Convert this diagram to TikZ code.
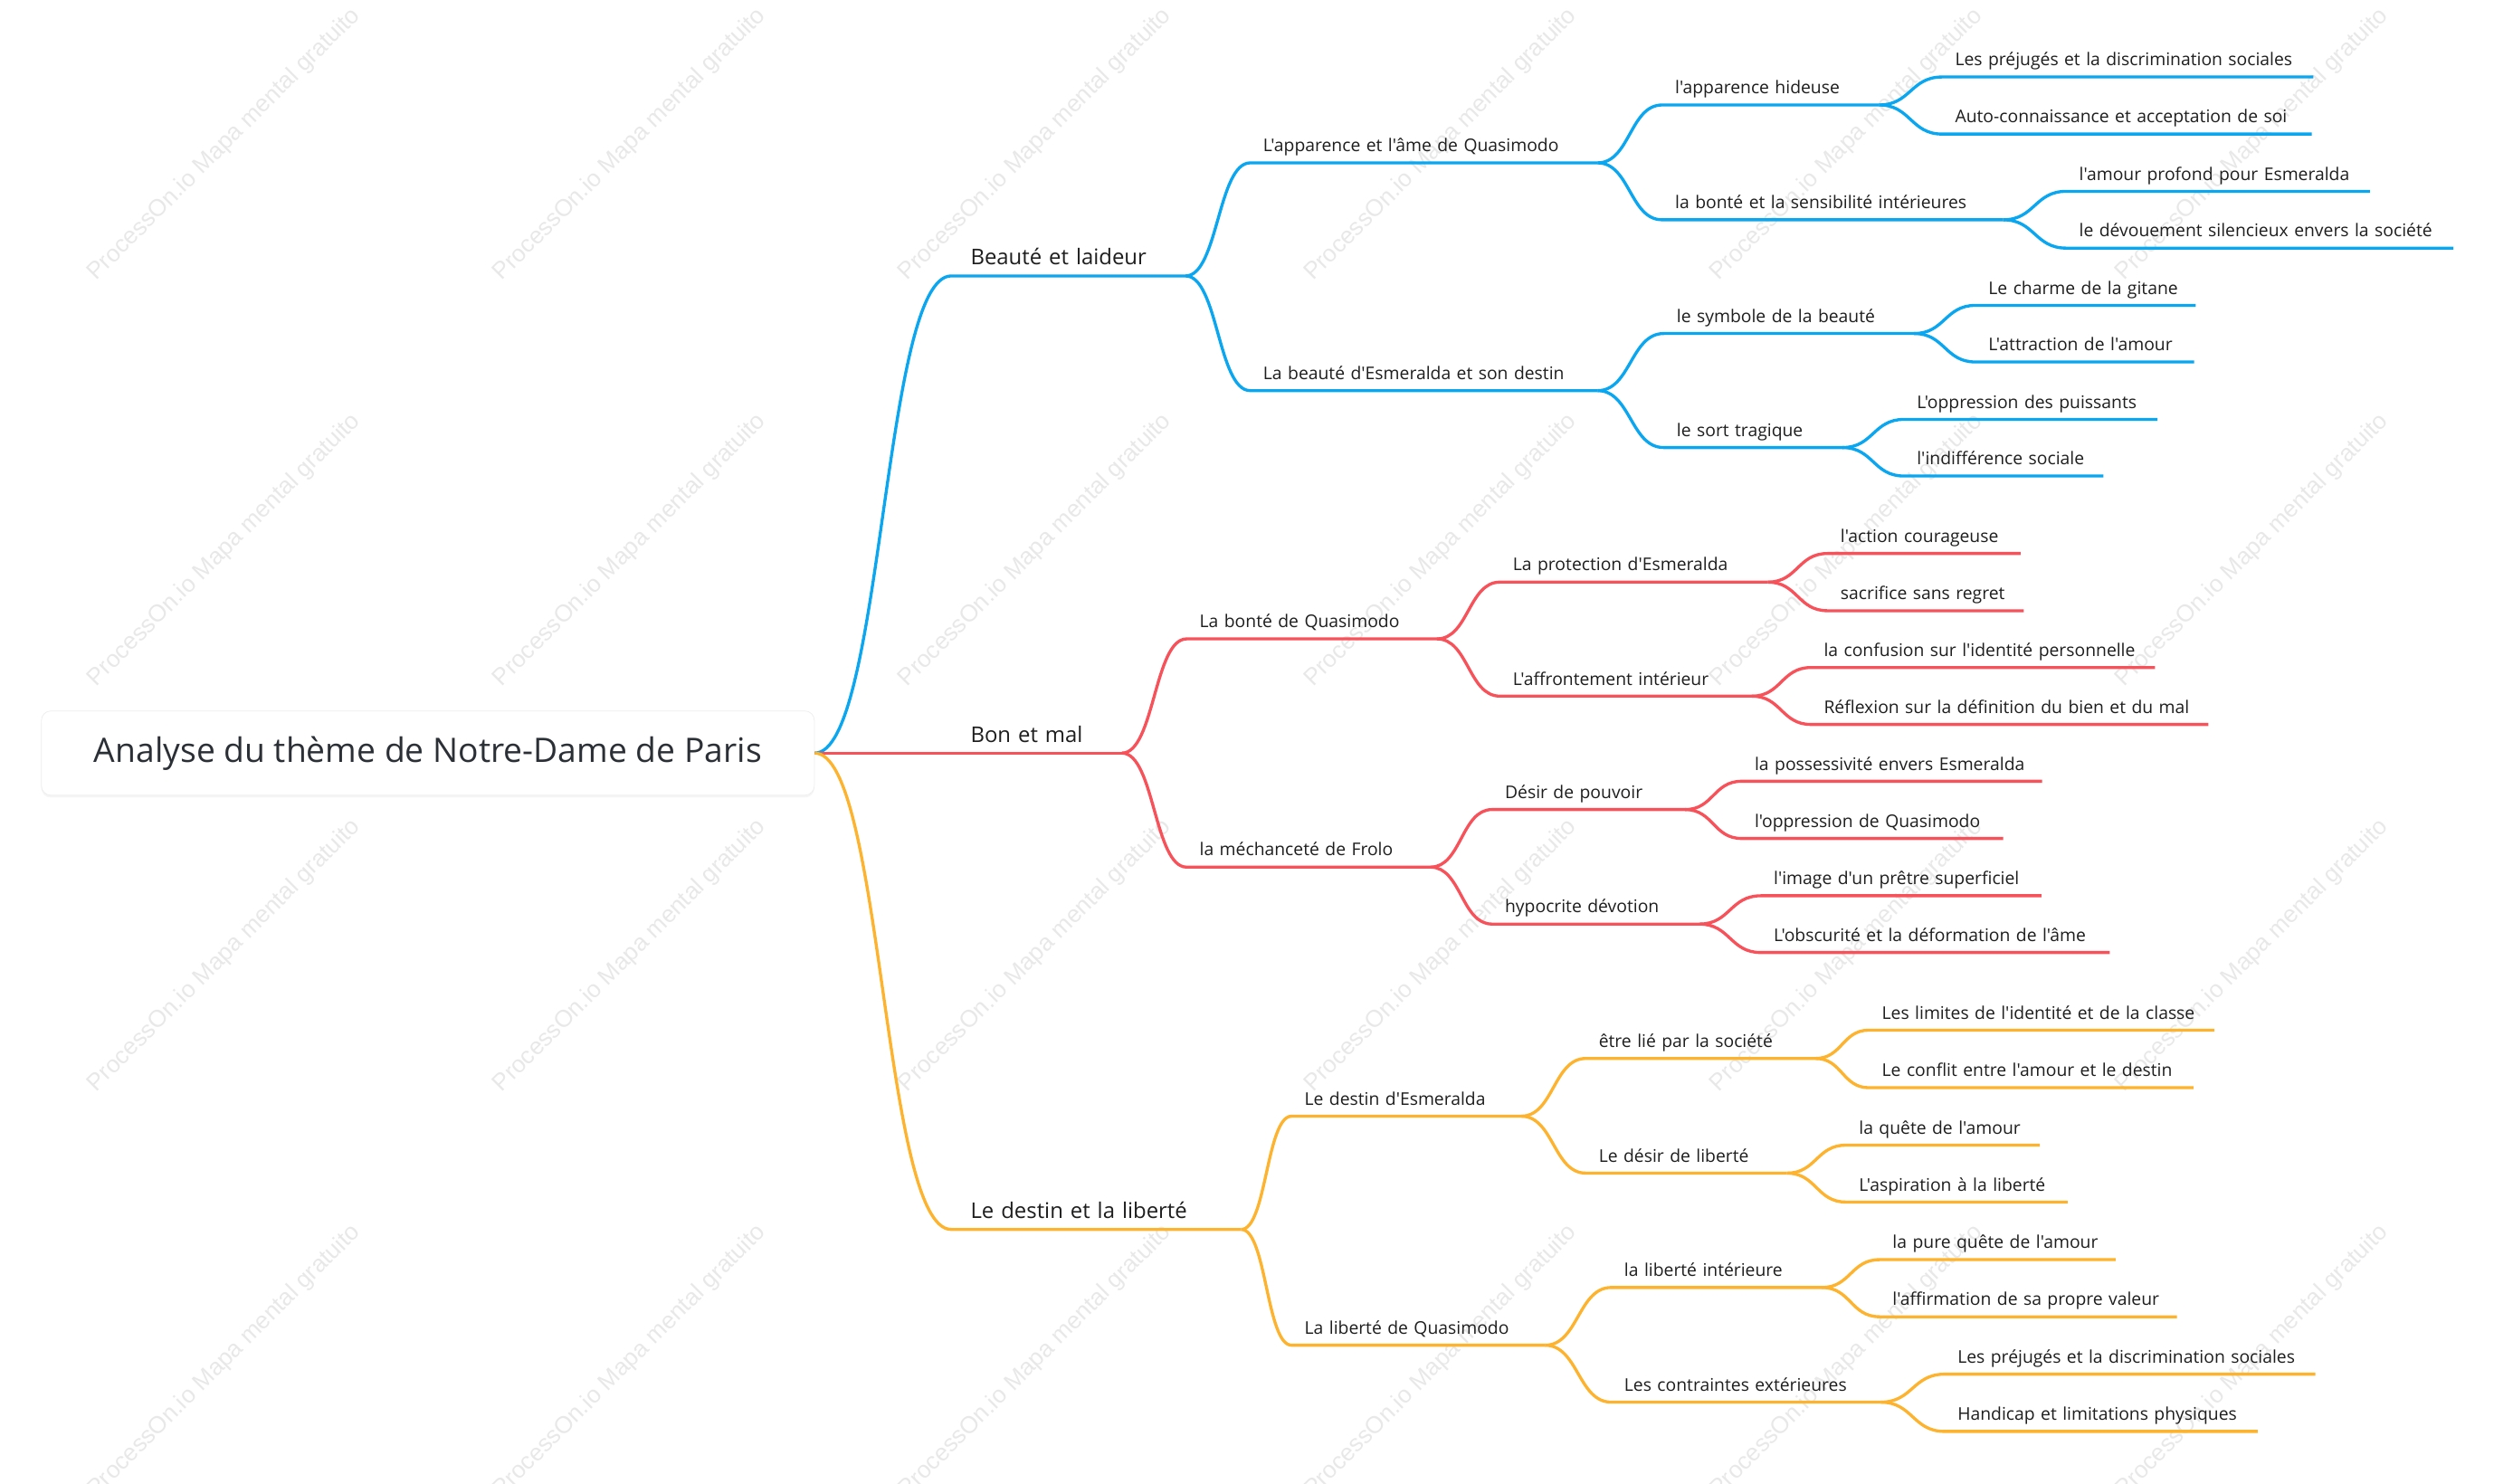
\documentclass[tikz,border=0pt]{standalone}
\usepackage{fontspec}
\setmainfont{Open Sans}[Ligatures={TeXOff,CommonOff}]
\newfontfamily\wmfont{Liberation Sans}
\usetikzlibrary{calc,shadows}

\definecolor{mblue}{HTML}{0AA6F0}
\definecolor{mred}{HTML}{F7525A}
\definecolor{morange}{HTML}{FDB32D}
\definecolor{mtext}{HTML}{1E1E1E}
\definecolor{roottext}{HTML}{2B2F36}

\begin{document}
\begin{tikzpicture}[x=1pt, y=-1pt,
  topic/.style={anchor=south west, inner xsep=12pt, inner ysep=0pt, text depth=6.6pt, align=left, text=mtext, font=\fontsize{13.6}{16}\selectfont},
  sub/.style={anchor=south west, inner xsep=8pt, inner ysep=0pt, text depth=6.8pt, align=left, text=mtext, font=\fontsize{11}{13}\selectfont},
  curvy/.style={to path={.. controls ($(\tikztostart)!.5!(\tikztotarget|-\tikztostart)$) and ($(\tikztotarget)!.5!(\tikztostart|-\tikztotarget)$) .. (\tikztotarget) \tikztonodes}},
  bl/.style={draw=mblue, line width=1.9pt},
  rd/.style={draw=mred, line width=1.9pt},
  og/.style={draw=morange, line width=1.9pt},
  wmark/.style={rotate=45, text=black!9, font=\wmfont\fontsize{15}{18}\selectfont}]

\useasboundingbox (0,0) rectangle (1568,933);

\foreach \i in {0,...,5}
  \foreach \j in {0,...,3}
    \node[wmark] (wm-\i-\j) at (141+255*\i, 91+255*\j) {ProcessOn.io Mapa mental gratuito};

\node[draw=black!7, fill=white, rounded corners=6pt, minimum width=486pt, minimum height=53pt, drop shadow={opacity=0.08, shadow xshift=0pt, shadow yshift=-1.5pt}, text=roottext, font=\fontsize{21.2}{25}\selectfont] (root) at (269,473.5) {Analyse du thème de Notre-Dame de Paris};

\node[topic, text width=123pt] (b) at (598,173.5) {Beauté et laideur};
\node[topic, text width=83pt] (r) at (598,473.5) {Bon et mal};
\node[topic, text width=158pt] (o) at (598,773) {Le destin et la liberté};

\node[sub, text width=202pt] (b1) at (786,102.4) {L'apparence et l'âme de Quasimodo};
\node[sub, text width=202pt] (b2) at (786,245.6) {La beauté d'Esmeralda et son destin};
\node[sub, text width=141pt] (r1) at (746,401.7) {La bonté de Quasimodo};
\node[sub, text width=137pt] (r2) at (746,545.2) {la méchanceté de Frolo};
\node[sub, text width=128pt] (o1) at (812,701.8) {Le destin d'Esmeralda};
\node[sub, text width=143pt] (o2) at (812,845.8) {La liberté de Quasimodo};

\node[sub, text width=120pt] (b11) at (1045,66) {l'apparence hideuse};
\node[sub, text width=198pt] (b12) at (1045,138.2) {la bonté et la sensibilité intérieures};
\node[sub, text width=141pt] (b21) at (1046,209.7) {le symbole de la beauté};
\node[sub, text width=96pt] (b22) at (1046,281.4) {le sort tragique};
\node[sub, text width=152pt] (r11) at (943,366) {La protection d'Esmeralda};
\node[sub, text width=142pt] (r12) at (943,437.7) {L'affrontement intérieur};
\node[sub, text width=105pt] (r21) at (938,509) {Désir de pouvoir};
\node[sub, text width=114pt] (r22) at (938,581) {hypocrite dévotion};
\node[sub, text width=128pt] (o11) at (997,665.5) {être lié par la société};
\node[sub, text width=110pt] (o12) at (997,737.6) {Le désir de liberté};
\node[sub, text width=116pt] (o21) at (1013,809.5) {la liberté intérieure};
\node[sub, text width=153pt] (o22) at (1013,881.6) {Les contraintes extérieures};

\node[sub, text width=217pt] (b111) at (1221,48.4) {Les préjugés et la discrimination sociales};
\node[sub, text width=216pt] (b112) at (1221,84.3) {Auto-connaissance et acceptation de soi};
\node[sub, text width=174.5pt] (b121) at (1299,120.3) {l'amour profond pour Esmeralda};
\node[sub, text width=227pt] (b122) at (1299,156) {le dévouement silencieux envers la société};
\node[sub, text width=122pt] (b211) at (1242,192) {Le charme de la gitane};
\node[sub, text width=121pt] (b212) at (1242,227.6) {L'attraction de l'amour};
\node[sub, text width=143pt] (b221) at (1197,263.7) {L'oppression des puissants};
\node[sub, text width=109pt] (b222) at (1197,299.3) {l'indifférence sociale};

\node[sub, text width=105pt] (r111) at (1149,348) {l'action courageuse};
\node[sub, text width=107pt] (r112) at (1149,384) {sacrifice sans regret};
\node[sub, text width=200pt] (r121) at (1138.5,419.7) {la confusion sur l'identité personnelle};
\node[sub, text width=233.5pt] (r122) at (1138.5,455.5) {Réflexion sur la définition du bien et du mal};
\node[sub, text width=172.5pt] (r211) at (1095,491.2) {la possessivité envers Esmeralda};
\node[sub, text width=148pt] (r212) at (1095,527.2) {l'oppression de Quasimodo};
\node[sub, text width=160pt] (r221) at (1107,563.2) {l'image d'un prêtre superficiel};
\node[sub, text width=203pt] (r222) at (1107,598.9) {L'obscurité et la déformation de l'âme};

\node[sub, text width=200.7pt] (o111) at (1175,647.7) {Les limites de l'identité et de la classe};
\node[sub, text width=187.6pt] (o112) at (1175,683.9) {Le conflit entre l'amour et le destin};
\node[sub, text width=105.4pt] (o121) at (1160.6,720) {la quête de l'amour};
\node[sub, text width=123pt] (o122) at (1160.6,755.8) {L'aspiration à la liberté};
\node[sub, text width=132pt] (o211) at (1181.7,792) {la pure quête de l'amour};
\node[sub, text width=170.5pt] (o212) at (1181.7,827.9) {l'affirmation de sa propre valeur};
\node[sub, text width=216.7pt] (o221) at (1222.6,864) {Les préjugés et la discrimination sociales};
\node[sub, text width=180.4pt] (o222) at (1222.6,900) {Handicap et limitations physiques};

\draw[bl] (root.east) to[curvy] (b.south west) -- (b.south east);
\draw[rd] (root.east) to[curvy] (r.south west) -- (r.south east);
\draw[og] (root.east) to[curvy] (o.south west) -- (o.south east);

\foreach \p/\c in {b/b1, b/b2, b1/b11, b1/b12, b2/b21, b2/b22, b11/b111, b11/b112, b12/b121, b12/b122, b21/b211, b21/b212, b22/b221, b22/b222}
  \draw[bl] (\p.south east) to[curvy] (\c.south west) -- (\c.south east);

\foreach \p/\c in {r/r1, r/r2, r1/r11, r1/r12, r2/r21, r2/r22, r11/r111, r11/r112, r12/r121, r12/r122, r21/r211, r21/r212, r22/r221, r22/r222}
  \draw[rd] (\p.south east) to[curvy] (\c.south west) -- (\c.south east);

\foreach \p/\c in {o/o1, o/o2, o1/o11, o1/o12, o2/o21, o2/o22, o11/o111, o11/o112, o12/o121, o12/o122, o21/o211, o21/o212, o22/o221, o22/o222}
  \draw[og] (\p.south east) to[curvy] (\c.south west) -- (\c.south east);

\end{tikzpicture}
\end{document}
